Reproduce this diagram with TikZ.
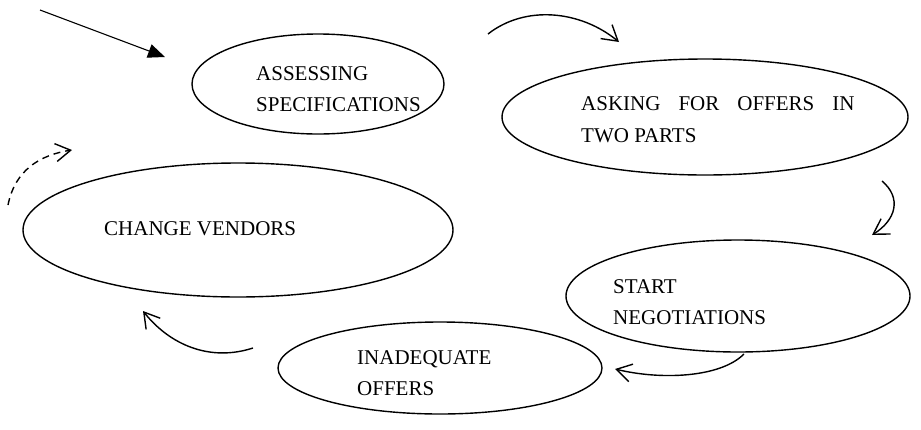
\documentclass[tikz,border=0pt]{standalone}
\usepackage{fontspec}
\setmainfont{Liberation Serif}
\usetikzlibrary{arrows.meta,shapes.geometric}
\begin{document}
\begin{tikzpicture}[x=1pt,y=-1pt,
  stage/.style={draw,ellipse,line width=1.4pt,inner sep=0pt},
  caption/.style={anchor=base west,inner sep=0pt,font=\fontsize{21}{31}\selectfont},
  flow/.style={line width=1.4pt,-{Straight Barb[length=15pt,width=18pt,line width=1.4pt]}},
  entry/.style={line width=1.1pt,-{Triangle[length=17pt,width=14pt]}}]
\useasboundingbox (0,0) rectangle (921,429);

% stages of the procurement cycle
\node[stage,minimum width=252pt,minimum height=100pt] (e1) at (318,84) {};
\node[stage,minimum width=406pt,minimum height=116pt] (e2) at (705,117) {};
\node[stage,minimum width=430pt,minimum height=134pt] (e3) at (238,230) {};
\node[stage,minimum width=344pt,minimum height=112pt] (e4) at (738,296) {};
\node[stage,minimum width=324pt,minimum height=92pt] (e5) at (440,368) {};

% stage labels
\node[caption] (t1a) at (256,80) {ASSESSING};
\node[caption] (t1b) at (256,111) {SPECIFICATIONS};
\node[caption] (t2a) at (581,110) {ASKING\hspace{18pt}FOR\hspace{18pt}OFFERS\hspace{18pt}IN};
\node[caption] (t2b) at (581,142) {TWO PARTS};
\node[caption] (t3a) at (104,235) {CHANGE VENDORS};
\node[caption] (t4a) at (613,293) {START};
\node[caption] (t4b) at (613,324) {NEGOTIATIONS};
\node[caption] (t5a) at (357,364) {INADEQUATE};
\node[caption] (t5b) at (357,395) {OFFERS};

% arrow end points
\coordinate (s0) at (40,10);   \coordinate (h0) at (165,57);
\coordinate (s1) at (488,34);  \coordinate (h1) at (619,42);
\coordinate (s2) at (882,181); \coordinate (h2) at (872,235);
\coordinate (s3) at (744,354); \coordinate (h3) at (615,369);
\coordinate (s4) at (253,348); \coordinate (h4) at (143,311);
\coordinate (s5) at (8,205);   \coordinate (h5) at (72,150);

% connectors
\draw[entry] (s0) -- (h0);
\draw[flow] (s1) .. controls (525,5) and (580,10) .. (h1);
\draw[flow] (s2) .. controls (902,198) and (896,220) .. (h2);
\draw[flow] (s3) .. controls (720,378) and (660,380) .. (h3);
\draw[flow] (s4) .. controls (210,362) and (170,345) .. (h4);
\draw[flow,dashed,dash pattern=on 7pt off 5pt] (s5) .. controls (15,170) and (40,155) .. (h5);
\end{tikzpicture}
\end{document}
